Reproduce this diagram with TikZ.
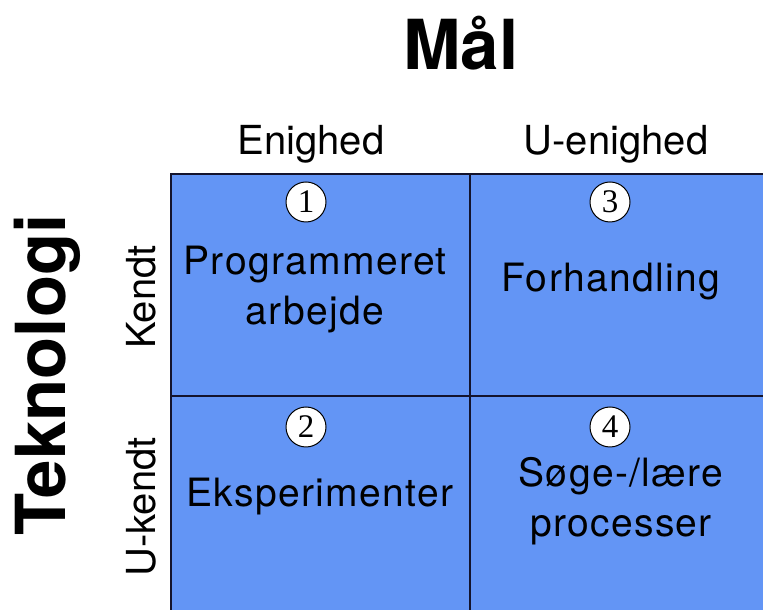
\documentclass[tikz,border=0pt]{standalone}
\usepackage{fontspec}
\setmainfont{TeX Gyre Heros}
\newfontfamily\cellfont[LetterSpace=3.5]{TeX Gyre Heros}
\newfontfamily\numfont{Liberation Serif}
\definecolor{cellblue}{RGB}{99,149,245}
\definecolor{gridline}{RGB}{20,20,45}
\tikzset{
  cell/.style={draw=gridline, line width=2.5pt, fill=cellblue, minimum width=299pt,
    minimum height=222pt, inner sep=0pt},
  celltext/.style={font=\cellfont\fontsize{39}{39}\selectfont, anchor=base, inner sep=0pt},
  head/.style={font=\fontsize{40}{40}\selectfont, anchor=base, inner sep=0pt},
  title/.style={font=\bfseries\fontsize{69}{69}\selectfont, anchor=base, inner sep=0pt},
  num/.style={circle, draw=black, line width=1pt, fill=white, minimum size=40pt,
    inner sep=0pt, font=\numfont\fontsize{33}{33}\selectfont},
}
\begin{document}
\begin{tikzpicture}[x=1pt,y=1pt]
  \useasboundingbox (0,0) rectangle (763,610);
  \clip (0,0) rectangle (763,610);
  \fill[white] (0,0) rectangle (763,610);

  % the four cells of the matrix
  \node[cell] (c11) at (320.5,325) {};
  \node[cell] (c12) at (619.5,325) {};
  \node[cell] (c21) at (320.5,103) {};
  \node[cell] (c22) at (619.5,103) {};

  % axis titles
  \node[title] (mal) at (461,540) {Mål};
  \node[title, rotate=90] (tek) at (65,235) {Teknologi};

  % column and row headings
  \node[head] (enig) at (311,455) {Enighed};
  \node[head] (uenig) at (616,455) {U-enighed};
  \node[head, rotate=90] (kendt) at (155,313) {Kendt};
  \node[head, rotate=90] (ukendt) at (155,103) {U-kendt};

  % cell contents
  \node[celltext] (t1a) at (315,335) {Programmeret};
  \node[celltext] (t1b) at (315,285) {arbejde};
  \node[celltext] (t3) at (611,318) {Forhandling};
  \node[celltext] (t2) at (320,103) {Eksperimenter};
  \node[celltext] (t4a) at (621,123) {Søge-/lære};
  \node[celltext] (t4b) at (621,73) {processer};

  % numbered markers
  \node[num] (n1) at (306,408) {1};
  \node[num] (n3) at (610,408) {3};
  \node[num] (n2) at (306,183) {2};
  \node[num] (n4) at (610,183) {4};
\end{tikzpicture}
\end{document}
